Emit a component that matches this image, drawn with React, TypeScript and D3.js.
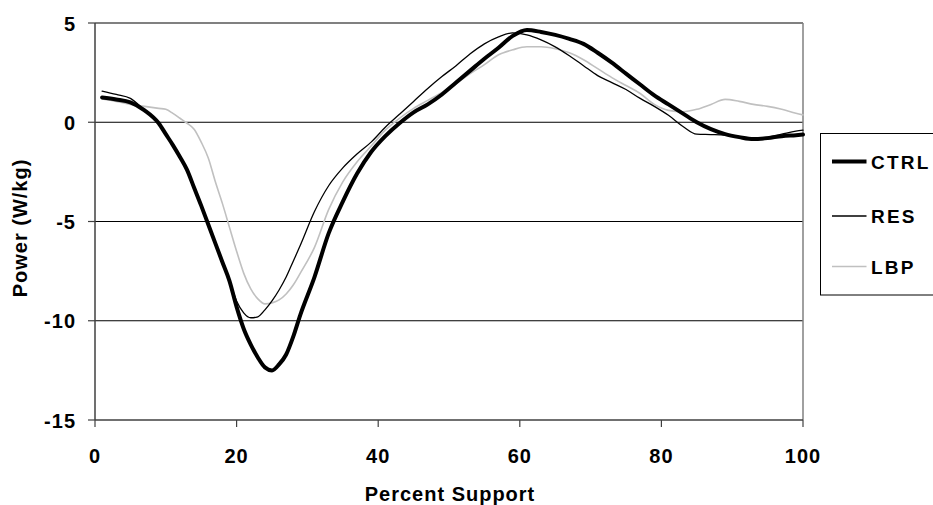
import React from "react";
import * as d3 from "d3";

const percent = [1,3,5,7,9,10,11,12,13,14,15,16,17,18,19,20,21,22,23,24,25,26,27,28,29,31,33,35,37,39,41,43,45,47,49,51,53,55,57,59,61,63,65,67,69,71,73,75,77,79,81,83,85,87,89,91,93,95,97,99,100];

const ctrl = [1.25,1.15,1.0,0.6,-0.05,-0.6,-1.15,-1.75,-2.4,-3.3,-4.2,-5.15,-6.1,-7.05,-8.0,-9.3,-10.4,-11.2,-11.85,-12.35,-12.5,-12.2,-11.7,-10.8,-9.7,-7.8,-5.6,-4.0,-2.6,-1.5,-0.7,-0.05,0.5,0.9,1.4,2.0,2.6,3.2,3.75,4.35,4.65,4.55,4.4,4.2,3.95,3.5,3.0,2.45,1.9,1.35,0.9,0.45,0.0,-0.35,-0.6,-0.75,-0.85,-0.8,-0.7,-0.65,-0.62];

const res = [1.57,1.4,1.2,0.6,-0.05,-0.6,-1.15,-1.75,-2.4,-3.3,-4.2,-5.15,-6.1,-7.05,-8.0,-9.0,-9.6,-9.85,-9.8,-9.45,-9.0,-8.45,-7.8,-7.0,-6.2,-4.5,-3.2,-2.3,-1.6,-1.0,-0.25,0.4,1.05,1.7,2.3,2.85,3.45,3.95,4.3,4.5,4.4,4.15,3.8,3.35,2.85,2.35,2.0,1.65,1.2,0.8,0.35,-0.2,-0.6,-0.62,-0.65,-0.75,-0.8,-0.75,-0.6,-0.45,-0.4];

const lbp = [1.17,1.05,0.9,0.8,0.7,0.65,0.45,0.2,-0.05,-0.35,-1.0,-1.8,-3.0,-4.1,-5.3,-6.5,-7.6,-8.4,-8.9,-9.15,-9.1,-8.95,-8.65,-8.2,-7.6,-6.3,-4.4,-3.0,-2.0,-1.2,-0.4,0.2,0.7,1.1,1.5,1.95,2.45,2.9,3.4,3.65,3.8,3.8,3.7,3.5,3.15,2.7,2.25,1.85,1.45,0.9,0.6,0.53,0.65,0.9,1.15,1.05,0.9,0.8,0.65,0.45,0.37];

const xTicks = [0, 20, 40, 60, 80, 100];
const yTicks = [5, 0, -5, -10, -15];
const gridValues = [0, -5, -10];

const seriesNames = ["CTRL", "RES", "LBP"];
const seriesColors = ["#000000", "#000000", "#c0c0c0"];
const seriesWidths = [4, 1.3, 1.6];

const FONT = "'Liberation Sans', Arial, sans-serif";

export default function App() {
  const left = 95, right = 803, top = 23, bottom = 420;
  const x = d3.scaleLinear().domain([0, 100]).range([left, right]);
  const y = d3.scaleLinear().domain([-15, 5]).range([bottom, top]);
  const allSeries = [ctrl, res, lbp];
  const line = d3
    .line<number>()
    .x((_, i) => x(percent[i]))
    .y((d) => y(d))
    .curve(d3.curveMonotoneX);

  const legendY = [161.5, 216, 266.5];

  return (
    <svg
      width={933}
      height={505}
      style={{ position: "absolute", left: 0, top: 0, background: "#fff" }}
      fontFamily={FONT}
    >
      {gridValues.map((g) => (
        <line key={g} x1={left} x2={right} y1={y(g)} y2={y(g)} stroke="#000" strokeWidth={1} />
      ))}
      <line x1={left} x2={right} y1={top} y2={top} stroke="#808080" strokeWidth={2} />
      <line x1={right} x2={right} y1={top} y2={bottom} stroke="#808080" strokeWidth={1.5} />
      {allSeries
        .map((s, i) => (
          <path
            key={seriesNames[i]}
            d={line(s) || ""}
            fill="none"
            stroke={seriesColors[i]}
            strokeWidth={seriesWidths[i]}
            strokeLinejoin="round"
            strokeLinecap="round"
          />
        ))
        .reverse()}
      <line x1={left} x2={left} y1={top} y2={bottom} stroke="#404040" strokeWidth={1.5} />
      <line x1={left} x2={right} y1={bottom} y2={bottom} stroke="#404040" strokeWidth={1.5} />
      {yTicks.map((t) => (
        <g key={t}>
          <line x1={left - 7} x2={left} y1={y(t)} y2={y(t)} stroke="#404040" strokeWidth={1.2} />
          <text x={76} y={y(t) + 7.5} textAnchor="end" fontSize={20} fontWeight="bold" letterSpacing={1}>
            {t}
          </text>
        </g>
      ))}
      {xTicks.map((t) => (
        <g key={t}>
          <line x1={x(t)} x2={x(t)} y1={bottom} y2={bottom + 7} stroke="#404040" strokeWidth={1.2} />
          <text x={x(t)} y={462.5} textAnchor="middle" fontSize={20} fontWeight="bold" letterSpacing={1}>
            {t}
          </text>
        </g>
      ))}
      <text x={450} y={501} textAnchor="middle" fontSize={20} fontWeight="bold" letterSpacing={1}>
        Percent Support
      </text>
      <text
        transform={`translate(27,228) rotate(-90)`}
        textAnchor="middle"
        fontSize={20}
        fontWeight="bold"
        letterSpacing={1}
      >
        Power (W/kg)
      </text>
      <rect x={820.5} y={133.5} width={130} height={161.5} fill="#fff" stroke="#000" strokeWidth={1} />
      {seriesNames.map((n, i) => (
        <g key={n}>
          <line
            x1={832}
            x2={866.5}
            y1={legendY[i]}
            y2={legendY[i]}
            stroke={seriesColors[i]}
            strokeWidth={seriesWidths[i]}
          />
          <text x={871} y={legendY[i] + 7} fontSize={19} fontWeight="bold" letterSpacing={2.2}>
            {n}
          </text>
        </g>
      ))}
    </svg>
  );
}
